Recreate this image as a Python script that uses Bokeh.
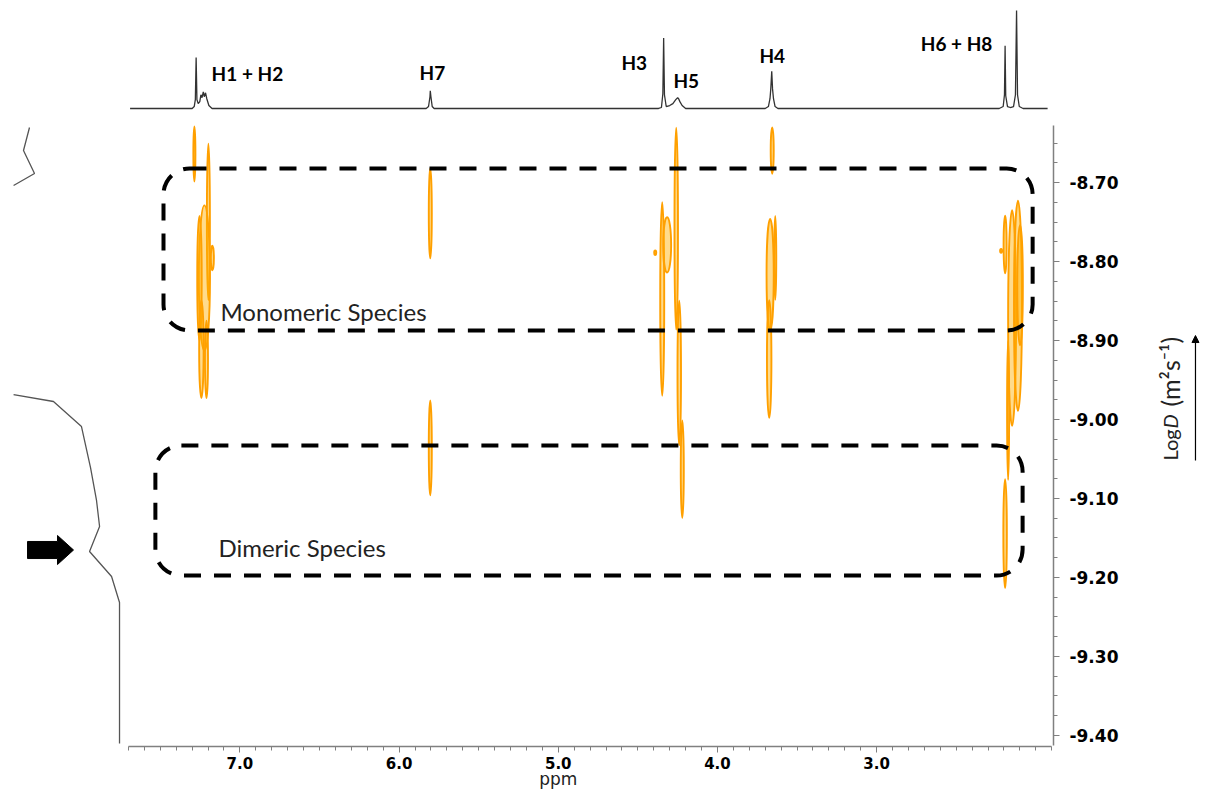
import math
from bokeh.plotting import figure
from bokeh.models import Range1d, FixedTicker, NumeralTickFormatter, BoxAnnotation, Label, Arrow, NormalHead
from bokeh.core.properties import value
from bokeh.embed import file_html
from bokeh.resources import INLINE

# ---------------- data ----------------
# 1D 1H spectrum on top (ppm, relative intensity)
spec_ppm = [7.69, 7.30, 7.287, 7.280, 7.275, 7.270, 7.262, 7.252, 7.245, 7.238, 7.230, 7.224,
            7.216, 7.208, 7.195, 7.175,
            5.83, 5.815, 5.806, 5.804, 5.800, 5.792, 5.78,
            4.37, 4.352, 4.343, 4.338, 4.333, 4.322, 4.30, 4.28, 4.262, 4.250, 4.244, 4.236, 4.222, 4.20,
            3.70, 3.680, 3.670, 3.665, 3.659, 3.654, 3.648, 3.638, 3.62,
            2.23, 2.205, 2.197, 2.193, 2.189, 2.178, 2.160, 2.140, 2.128, 2.121, 2.115, 2.104, 2.08, 1.926]
spec_int = [0, 0, 2, 9, 52, 9, 5, 7, 14, 11, 17, 12,
            16, 10, 3, 0,
            0, 2, 12, 18, 12, 2, 0,
            0, 1, 15, 72, 14, 2, 3, 5, 9, 11, 10, 7, 3, 0,
            0, 2, 10, 20, 38, 20, 10, 2, 0,
            0, 2, 14, 64, 13, 2, 1, 2, 14, 100, 14, 2, 0, 0]

# peak labels
peak_names = ["H1 + H2", "H7", "H3", "H5", "H4", "H6 + H8"]
peak_label_ppm = [6.953, 5.791, 4.523, 4.196, 3.656, 2.498]
peak_label_int = [35.7, 36.7, 46.9, 28.6, 54.1, 66.3]

# DOSY projection on the left (intensity, logD)
proj_int = [82.6, 88.1, 78.0, 97.2]
proj_logd = [-8.6304, -8.6595, -8.6886, -8.7038]
proj2_int = [97.2, 60.6, 34.9, 26.6, 21.1, 18.3, 27.5, 7.3, 0.0, 0.0]
proj2_logd = [-8.9684, -8.9772, -9.0089, -9.0608, -9.1025, -9.1354, -9.1671, -9.1987, -9.2316, -9.4101]

# DOSY cross peaks: chemical shift (ppm), logD top, logD bottom, width (ppm)
spot_ppm = [7.286, 7.198, 7.223, 7.254, 7.242, 7.173, 7.210,
            5.804, 5.804,
            4.347, 4.316, 4.391,
            4.259, 4.240, 4.221,
            3.656, 3.669, 3.637, 3.675,
            2.193, 2.149, 2.112, 2.099, 2.174, 2.193, 2.218]
spot_top = [-8.629, -8.651, -8.729, -8.742, -8.849, -8.780, -8.875,
            -8.682, -8.976,
            -8.725, -8.744, -8.786,
            -8.630, -8.849, -9.001,
            -8.630, -8.746, -8.742, -8.849,
            -8.742, -8.735, -8.723, -8.754, -8.900, -9.075, -8.784]
spot_bottom = [-8.699, -8.849, -8.913, -8.900, -8.973, -8.811, -8.973,
               -8.796, -9.096,
               -8.970, -8.814, -8.792,
               -8.887, -9.033, -9.125,
               -8.689, -8.887, -8.849, -8.998,
               -8.815, -9.008, -8.989, -8.906, -9.077, -9.214, -8.789]
spot_width = [0.013, 0.019, 0.070, 0.028, 0.028, 0.019, 0.019,
              0.019, 0.019,
              0.025, 0.050, 0.013,
              0.022, 0.022, 0.019,
              0.019, 0.045, 0.013, 0.028,
              0.019, 0.050, 0.050, 0.035, 0.013, 0.022, 0.013]

x_major = [7.0, 6.0, 5.0, 4.0, 3.0]
x_minor = [round(7.7 - 0.1 * i, 2) for i in range(59)]
y_major = [-8.7, -8.8, -8.9, -9.0, -9.1, -9.2, -9.3, -9.4]
y_minor = [round(-8.65 - 0.025 * i, 3) for i in range(31)]

# ---------------- figure ----------------
p = figure(width=1207, height=791, x_range=Range1d(8.504, 0.9215), y_range=Range1d(-9.4709, -8.4696),
           y_axis_location="right", output_backend="svg", toolbar_location=None, tools="",
           min_border_left=0, min_border_top=0, min_border_right=0, min_border_bottom=0)
p.outline_line_color = None
p.grid.visible = False
p.background_fill_color = "white"
p.border_fill_color = "white"

p.extra_y_ranges = {"spec": Range1d(-697.0, 110.2)}
p.extra_x_ranges = {"proj": Range1d(109.2, -998.2)}

axis_gray = "#808080"
for ax in (p.xaxis[0], p.yaxis[0]):
    ax.axis_line_color = axis_gray
    ax.axis_line_width = 1.5
    ax.major_tick_line_color = axis_gray
    ax.minor_tick_line_color = axis_gray
    ax.major_tick_in = 0
    ax.minor_tick_in = 0
    ax.major_tick_out = 6
    ax.minor_tick_out = 4
    ax.major_label_text_color = "black"
    ax.major_label_text_font_style = "bold"
    ax.major_label_text_font = "DejaVu Sans"

p.xaxis[0].ticker = FixedTicker(ticks=x_major, minor_ticks=x_minor)
p.xaxis[0].formatter = NumeralTickFormatter(format="0.0")
p.xaxis[0].bounds = (1.9, 7.7)
p.xaxis[0].fixed_location = -9.4139
p.xaxis[0].major_label_text_font_size = "15px"
p.xaxis[0].major_label_standoff = 5

p.yaxis[0].ticker = FixedTicker(ticks=y_major, minor_ticks=y_minor)
p.yaxis[0].formatter = NumeralTickFormatter(format="0.00")
p.yaxis[0].bounds = (-9.4127, -8.6278)
p.yaxis[0].fixed_location = 1.889
p.yaxis[0].major_label_text_font_size = "17px"
p.yaxis[0].major_label_standoff = 10

# DOSY spots as elongated contour loops
spot_y = [(t + b) / 2 for t, b in zip(spot_top, spot_bottom)]
spot_h = [abs(t - b) for t, b in zip(spot_top, spot_bottom)]
p.ellipse(x=spot_ppm, y=spot_y, width=spot_width, height=spot_h,
          fill_color="#FFB000", fill_alpha=0.45, line_color="#FFA000", line_width=1.9)

# top 1D spectrum
p.line(spec_ppm, spec_int, y_range_name="spec", line_color="#333333", line_width=1.3)
p.text(x=peak_label_ppm, y=peak_label_int, text=peak_names, y_range_name="spec",
       text_font=value("Lato"), text_font_style="bold", text_font_size="19px",
       text_align="center", text_baseline="middle", text_color="black")

# left projection
p.line(proj_int, proj_logd, x_range_name="proj", line_color="#555555", line_width=1.3)
p.line(proj2_int, proj2_logd, x_range_name="proj", line_color="#555555", line_width=1.3)

# big arrow pointing at the dimer trace
arrow_tail, arrow_neck, arrow_tip = 84.4, 56.9, 42.2
arrow_y, shaft_half, head_half = -9.1652, 0.0108, 0.0184
p.patch([arrow_tail, arrow_neck, arrow_neck, arrow_tip, arrow_neck, arrow_neck, arrow_tail],
        [arrow_y + shaft_half, arrow_y + shaft_half, arrow_y + head_half, arrow_y,
         arrow_y - head_half, arrow_y - shaft_half, arrow_y - shaft_half],
        x_range_name="proj", fill_color="black", line_color="black")

# dashed rounded boxes
for (l, r, t, b) in [(7.480, 2.020, -8.6823, -8.8873), (7.531, 2.083, -9.0329, -9.1975)]:
    p.add_layout(BoxAnnotation(left=r, right=l, top=t, bottom=b, fill_alpha=0,
                               line_color="black", line_alpha=1.0, line_width=4,
                               line_dash="17 13", border_radius=26))

p.add_layout(Label(x=7.1224, y=-8.8633, text="Monomeric Species", text_font="Lato",
                   text_font_size="24px", text_baseline="middle", text_color="#222222"))
p.add_layout(Label(x=7.135, y=-9.162, text="Dimeric Species", text_font="Lato",
                   text_font_size="24px", text_baseline="middle", text_color="#222222"))

# axis titles
p.add_layout(Label(x=5.0, y=-9.4557, text="ppm", text_font="DejaVu Sans", text_font_size="17px",
                   text_align="center", text_baseline="middle", text_color="#222222"))
lx = 1.154
p.add_layout(Label(x=lx, y=-9.0519, text="Log", angle=math.pi / 2, text_font="Lato",
                   text_font_size="20px", text_baseline="middle", text_color="#222222"))
p.add_layout(Label(x=lx, y=-9.0114, text="D", angle=math.pi / 2, text_font="Lato",
                   text_font_style="italic", text_font_size="20px", text_baseline="middle",
                   text_color="#222222"))
p.add_layout(Label(x=lx, y=-8.9835, text="(m\u00b2s\u207b\u00b9)", angle=math.pi / 2, text_font="Lato",
                   text_font_size="25px", text_baseline="middle", text_color="#222222"))
p.add_layout(Arrow(x_start=0.997, y_start=-9.0519, x_end=0.997, y_end=-8.8937,
                   line_color="black", line_width=1.2,
                   end=NormalHead(size=7, fill_color="black", line_color="black")))

open("out.html", "w").write(file_html(p, INLINE))
